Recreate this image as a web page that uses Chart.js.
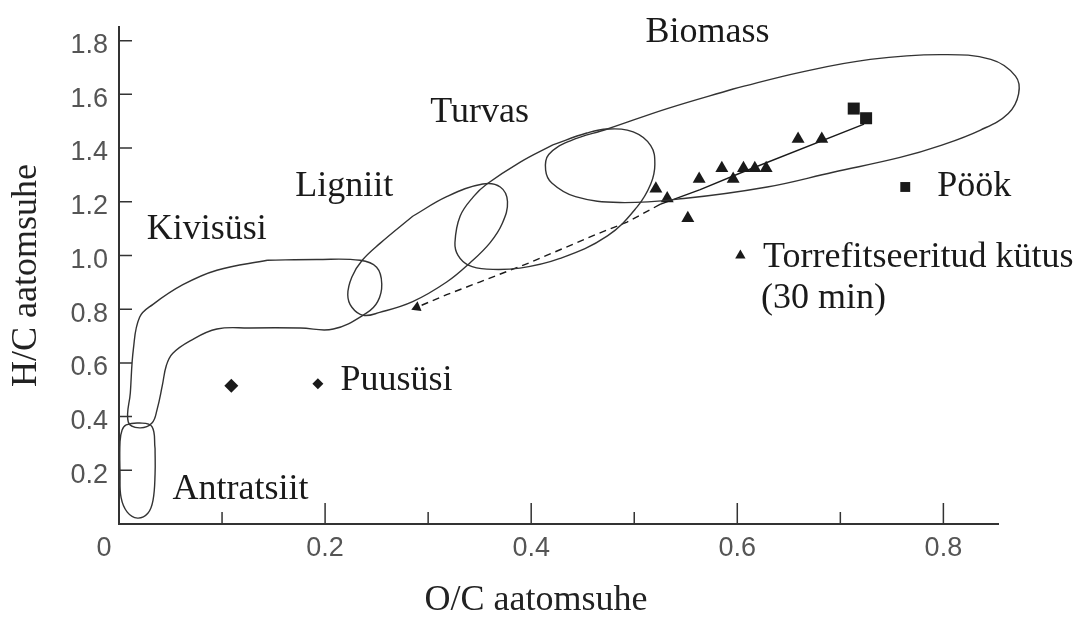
<!DOCTYPE html>
<html>
<head>
<meta charset="utf-8">
<script src="https://cdn.jsdelivr.net/npm/chart.js@4.4.1/dist/chart.umd.min.js"></script>
<style>
    html, body { margin: 0; padding: 0; background: #fff; }
    #wrap { width: 1089px; height: 624px; }
</style>
</head>
<body>
<div id="wrap"><canvas id="myChart"></canvas></div>
<script>
// [O/C, H/C] pairs
const antratsiit = [[0.035,0.281],[0.035,0.186],[0.033,0.088],[0.028,0.040],[0.018,0.022],[0.008,0.044],[0.002,0.099],[0.001,0.186],[0.001,0.307],[0.003,0.350],[0.007,0.369],[0.020,0.376],[0.032,0.363],[0.035,0.281]];
const kivisysi = [[0.144,0.982],[0.192,0.985],[0.234,0.982],[0.250,0.956],[0.255,0.894],[0.251,0.828],[0.240,0.785],[0.208,0.726],[0.176,0.730],[0.127,0.730],[0.095,0.726],[0.069,0.682],[0.052,0.635],[0.046,0.591],[0.042,0.515],[0.037,0.427],[0.032,0.376],[0.020,0.358],[0.009,0.380],[0.011,0.489],[0.014,0.653],[0.020,0.770],[0.033,0.818],[0.062,0.891],[0.095,0.945],[0.144,0.982]];
const ligniit = [[0.285,1.146],[0.318,1.219],[0.353,1.266],[0.370,1.255],[0.377,1.201],[0.372,1.120],[0.360,1.047],[0.341,0.974],[0.318,0.901],[0.285,0.828],[0.253,0.788],[0.237,0.777],[0.226,0.807],[0.222,0.854],[0.226,0.920],[0.236,0.982],[0.253,1.044],[0.285,1.146]];
const turvas = [[0.421,1.412],[0.454,1.456],[0.474,1.471],[0.499,1.460],[0.516,1.409],[0.520,1.339],[0.516,1.266],[0.503,1.182],[0.474,1.073],[0.428,0.989],[0.389,0.953],[0.357,0.949],[0.339,0.964],[0.329,1.000],[0.326,1.047],[0.331,1.146],[0.344,1.219],[0.357,1.266],[0.389,1.347],[0.421,1.412]];
const biomass = [[0.596,1.620],[0.661,1.682],[0.729,1.730],[0.797,1.748],[0.846,1.730],[0.870,1.668],[0.873,1.602],[0.863,1.529],[0.836,1.467],[0.797,1.409],[0.758,1.365],[0.693,1.310],[0.629,1.255],[0.548,1.212],[0.486,1.197],[0.443,1.219],[0.420,1.270],[0.414,1.318],[0.417,1.376],[0.438,1.427],[0.474,1.471],[0.532,1.547],[0.596,1.620]];

const pook = [[0.713,1.547],[0.725,1.511]];
const torrefitseeritud = [[0.521,1.248],[0.532,1.212],[0.552,1.139],[0.563,1.285],[0.585,1.325],[0.596,1.285],[0.606,1.325],[0.617,1.325],[0.628,1.325],[0.659,1.434],[0.682,1.434]];
const puusysi = [[0.109,0.515]];

// markers standing next to the legend words inside the plot
const pookKey = [[0.763,1.255]];
const torrefKey = [[0.603,1.000]];
const puusysiKey = [[0.193,0.522]];

// torrefaction path: solid part, then dashed part ending in the arrow
const pathSolid = [[0.723,1.489],[0.603,1.307],[0.564,1.245],[0.525,1.190]];
const pathDashed = [[0.525,1.190],[0.493,1.124],[0.464,1.080],[0.399,0.974],[0.350,0.901],[0.318,0.854],[0.289,0.807]];

const xTicks = [0, 0.2, 0.4, 0.6, 0.8];
const xTickLabels = ['0', '0.2', '0.4', '0.6', '0.8'];
const xMinorTicks = [0.1, 0.3, 0.5, 0.7];
const yTicks = [0.2, 0.4, 0.6, 0.8, 1.0, 1.2, 1.4, 1.6, 1.8];
const yTickLabels = ['0.2', '0.4', '0.6', '0.8', '1.0', '1.2', '1.4', '1.6', '1.8'];

const notes = [
    { text: 'Biomass', x: 0.511, y: 1.795 },
    { text: 'Turvas', x: 0.302, y: 1.497 },
    { text: 'Ligniit', x: 0.171, y: 1.222 },
    { text: 'Kivisüsi', x: 0.027, y: 1.062 },
    { text: 'Antratsiit', x: 0.052, y: 0.092 },
    { text: 'Puusüsi', x: 0.215, y: 0.500 },
    { text: 'Pöök', x: 0.794, y: 1.222 },
    { text: 'Torrefitseeritud kütus', x: 0.625, y: 0.956 },
    { text: '(30 min)', x: 0.623, y: 0.803 },
];

const xy = arr => arr.map(([x, y]) => ({ x, y }));
const INK = '#1a1a1a';
const SERIF = '"Liberation Serif", "Times New Roman", serif';
const SANS = '"Liberation Sans", Arial, sans-serif';

function outline(data) {
    return {
        data: xy(data), showLine: true, tension: 0.4, pointRadius: 0,
        borderColor: '#333', borderWidth: 1.4, fill: false, clip: false,
    };
}
function markers(data, style, radius, rotation) {
    return {
        data: xy(data), showLine: false, pointStyle: style, pointRadius: radius,
        pointRotation: rotation || 0, pointBackgroundColor: INK, pointBorderColor: INK,
        pointBorderWidth: 0, clip: false,
    };
}

const extras = {
    id: 'extras',
    afterDatasetsDraw(chart) {
        const { ctx, scales: { x, y } } = chart;
        const x0 = x.getPixelForValue(0);
        const y0 = y.getPixelForValue(0);
        ctx.save();
        ctx.strokeStyle = '#333';
        ctx.lineWidth = 1.5;
        ctx.beginPath();
        xTicks.forEach(v => {
            if (v === 0) return;
            const px = x.getPixelForValue(v);
            ctx.moveTo(px, y0); ctx.lineTo(px, y0 - 21);
        });
        xMinorTicks.forEach(v => {
            const px = x.getPixelForValue(v);
            ctx.moveTo(px, y0); ctx.lineTo(px, y0 - 12);
        });
        yTicks.forEach(v => {
            const py = y.getPixelForValue(v);
            ctx.moveTo(x0, py); ctx.lineTo(x0 + 13, py);
        });
        ctx.stroke();

        ctx.fillStyle = INK;
        ctx.font = '36px ' + SERIF;
        ctx.textAlign = 'left';
        ctx.textBaseline = 'alphabetic';
        notes.forEach(n => ctx.fillText(n.text, x.getPixelForValue(n.x), y.getPixelForValue(n.y)));
        ctx.restore();
    }
};

const ctx = document.getElementById('myChart');

new Chart(ctx, {
    type: 'scatter',
    data: {
        datasets: [
            outline(antratsiit),
            outline(kivisysi),
            outline(ligniit),
            outline(turvas),
            outline(biomass),
            { data: xy(pathSolid), showLine: true, pointRadius: 0, borderColor: INK, borderWidth: 1.4, tension: 0, clip: false },
            { data: xy(pathDashed), showLine: true, pointRadius: 0, borderColor: INK, borderWidth: 1.4, borderDash: [7, 5], tension: 0, clip: false },
            markers(pathDashed.slice(-1), 'triangle', 6, 247),
            markers(pook, 'rect', 8.5),
            markers(torrefitseeritud, 'triangle', 7.5),
            markers(puusysi, 'rectRot', 7),
            markers(pookKey, 'rect', 7),
            markers(torrefKey, 'triangle', 6),
            markers(puusysiKey, 'rectRot', 5.5),
        ]
    },
    options: {
        responsive: true,
        maintainAspectRatio: false,
        animation: false,
        layout: { padding: { top: 17, right: 91, bottom: 0, left: 0 } },
        elements: { line: { capBezierPoints: false } },
        plugins: {
            legend: { display: false },
            tooltip: { enabled: false },
        },
        scales: {
            x: {
                type: 'linear',
                min: 0,
                max: 0.853,
                afterFit: s => { s.height = 100; },
                afterBuildTicks: s => { s.ticks = xTicks.map(v => ({ value: v })); },
                grid: { display: false, drawTicks: false },
                border: { display: true, color: '#333', width: 2 },
                ticks: {
                    padding: 8,
                    color: '#555',
                    font: { family: SANS, size: 27 },
                    maxRotation: 0,
                    // the zero sits a little left of the corner in the original
                    callback: (v, i) => i === 0 ? xTickLabels[i] + '    ' : xTickLabels[i],
                },
                title: {
                    display: true,
                    text: 'O/C aatomsuhe     ',
                    color: '#222',
                    font: { family: SERIF, size: 36 },
                    padding: { top: 0, bottom: 2 },
                },
            },
            y: {
                type: 'linear',
                min: 0,
                max: 1.85,
                afterFit: s => { s.width = 119; },
                afterBuildTicks: s => { s.ticks = yTicks.map(v => ({ value: v })); },
                grid: { display: false, drawTicks: false },
                border: { display: true, color: '#333', width: 2 },
                ticks: {
                    padding: 11,
                    labelOffset: 5,
                    color: '#555',
                    font: { family: SANS, size: 27 },
                    callback: (v, i) => yTickLabels[i],
                },
                title: {
                    display: true,
                    text: 'H/C aatomsuhe',
                    color: '#222',
                    font: { family: SERIF, size: 36 },
                    padding: { top: 5, bottom: 0 },
                },
            }
        }
    },
    plugins: [extras]
});
</script>
</body>
</html>
